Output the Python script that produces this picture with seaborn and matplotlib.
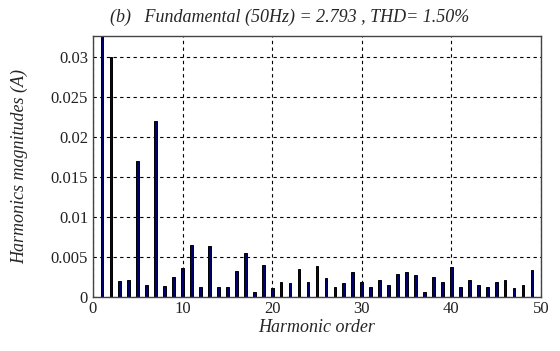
import numpy as np
import pandas as pd
import matplotlib
matplotlib.use("Agg")
import matplotlib.pyplot as plt
import seaborn as sns

# harmonic orders and magnitudes (A)
orders = list(range(1, 50))
magnitudes = [2.793, 0.0300, 0.00196, 0.00213, 0.01704, 0.00146, 0.02205, 0.00134,
              0.00242, 0.00355, 0.00652, 0.00117, 0.00635, 0.00117, 0.00117, 0.00322,
              0.00543, 0.00054, 0.00401, 0.00104, 0.00180, 0.00167, 0.00343, 0.00180,
              0.00384, 0.00230, 0.00117, 0.00167, 0.00305, 0.00180, 0.00117, 0.00213,
              0.00146, 0.00288, 0.00305, 0.00272, 0.00054, 0.00242, 0.00180, 0.00368,
              0.00117, 0.00213, 0.00146, 0.00117, 0.00180, 0.00213, 0.00104, 0.00146,
              0.00338]
x_ticks = [0, 10, 20, 30, 40, 50]
y_ticks = [0, 0.005, 0.01, 0.015, 0.02, 0.025, 0.03]
y_labels = ["0", "0.005", "0.01", "0.015", "0.02", "0.025", "0.03"]

df = pd.DataFrame({"order": orders, "mag": magnitudes})

sns.set_style("white")
plt.rcParams['font.family'] = ['Liberation Serif', 'DejaVu Serif']

fig = plt.figure(figsize=(5.6, 3.51), dpi=100)
ax = fig.add_axes([0.166, 0.155, 0.800, 0.743])

sns.barplot(data=df, x="order", y="mag", native_scale=True, width=0.3,
            color="#000070", edgecolor="black", linewidth=0.7, saturation=1, ax=ax)

ax.set_xlim(0, 50)
ax.set_ylim(0, 0.0327)
ax.set_xticks(x_ticks)
ax.set_xticklabels([str(t) for t in x_ticks], fontsize=12)
ax.set_yticks(y_ticks)
ax.set_yticklabels(y_labels, fontsize=12)
ax.grid(True, color="black", linestyle=(0, (3, 3)), linewidth=0.8)
ax.set_axisbelow(True)
for s in ax.spines.values():
    s.set_color("#444444")
    s.set_linewidth(1.0)
ax.tick_params(axis="both", length=3, direction="in", colors="#222222")

ax.set_xlabel("Harmonic order", fontsize=13, fontstyle="italic", labelpad=1)
ax.set_ylabel("Harmonics magnitudes (A)", fontsize=13, fontstyle="italic", labelpad=16)
ax.set_title("(b)   Fundamental (50Hz) = 2.793 , THD= 1.50%", fontsize=13,
             fontstyle="italic", pad=10, x=0.44)

fig.savefig("out.png", dpi=100)
